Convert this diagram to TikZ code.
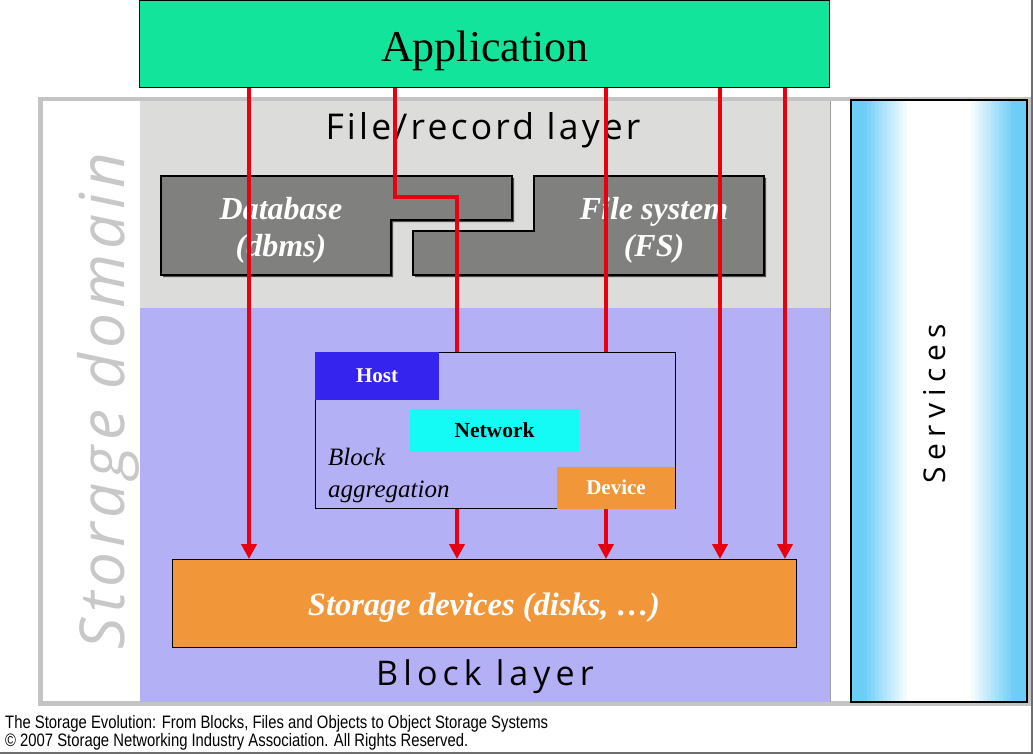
\documentclass[tikz,border=0pt]{standalone}
\usepackage{fontspec}
\usepackage{graphicx}
\setmainfont{Liberation Serif}
\newfontfamily\footfont{Liberation Sans}
\newfontfamily\layerfont[LetterSpace=9]{Open Sans}
\newfontfamily\blockfont[LetterSpace=15]{Open Sans}
\newfontfamily\svcfont[LetterSpace=22]{Open Sans}
\newfontfamily\domainfont[LetterSpace=8]{Open Sans}
\usetikzlibrary{arrows.meta}
\definecolor{appgreen}{RGB}{18,229,155}
\definecolor{filegray}{RGB}{220,220,219}
\definecolor{blockpurple}{RGB}{180,176,246}
\definecolor{dbgray}{RGB}{128,128,126}
\definecolor{dbshadow}{RGB}{80,80,80}
\definecolor{hostblue}{RGB}{52,36,238}
\definecolor{netcyan}{RGB}{20,250,244}
\definecolor{devorange}{RGB}{241,151,58}
\definecolor{linered}{RGB}{230,0,16}
\definecolor{svcblue}{RGB}{108,205,245}
\definecolor{framegray}{RGB}{196,196,196}
\definecolor{domaingray}{RGB}{200,200,200}
\definecolor{slideedge}{RGB}{110,110,110}
\tikzset{
  boxnode/.style={draw=black, line width=1pt, inner sep=0pt, outer sep=0pt},
  plainbox/.style={inner sep=0pt, outer sep=0pt},
  whitebi/.style={text=white, font=\bfseries\itshape\fontsize{32}{36}\selectfont, inner sep=0pt},
  redarrow/.style={draw=linered, line width=4pt, -{Triangle[width=15pt,length=15pt]}},
  shapeline/.style={draw=black, line width=1.2pt, fill=dbgray},
}
\begin{document}
\begin{tikzpicture}[x=1pt,y=-1pt]
\useasboundingbox (0,0) rectangle (1033,754);
\fill[white] (0,0) rectangle (1033,754);
% storage domain frame
\fill[framegray] (38,97) rectangle (1031,706);
\fill[white] (43,101) rectangle (1028,701);
% layers
\fill[filegray] (140,101) rectangle (830,308);
\fill[blockpurple] (140,308) rectangle (830,702);
\draw[framegray!80!black, line width=0.6pt] (830,101) -- (830,702);
% domain label
\node[rotate=90, anchor=base, inner sep=0pt, text=domaingray] (dom) at (124,401)
  {\domainfont\itshape\fontsize{62}{68}\selectfont Storage domain};
% layer labels
\node[anchor=base, inner sep=0pt] (filet) at (483,139.5)
  {\layerfont\fontsize{35.5}{40}\selectfont File/record layer};
\node[anchor=base, inner sep=0pt] (blockt) at (485,685.5)
  {\blockfont\fontsize{34}{40}\selectfont Block layer};
% services gradient (vertical strips)
\foreach \i in {0,...,43} {
  \pgfmathsetmacro\dd{abs(\i*4+2+851-939)}
  \pgfmathsetmacro\pp{max(0,min(100,(\dd-30)/45*100))}
  \fill[svcblue!\pp!white] ({851+\i*4},100) rectangle ({851+\i*4+4.4},702);
}
\node[boxnode, line width=1.2pt, minimum width=176pt, minimum height=602pt] (svc) at (939,401) {};
\node[rotate=90, anchor=base, inner sep=0pt] (svct) at (945,404)
  {\svcfont\fontsize{30}{36}\selectfont Services};
% application
\node[boxnode, fill=appgreen, minimum width=690pt, minimum height=87pt] (app) at (484,44.5) {};
\node[anchor=base, inner sep=0pt] (appt) at (485,62) {\fontsize{44}{50}\selectfont Application};
% database and file system
\fill[dbshadow] (163,178) -- (514,178) -- (514,222) -- (393,222) -- (393,277) -- (163,277) -- cycle;
\fill[dbshadow] (536,178) -- (766,178) -- (766,277) -- (415,277) -- (415,233) -- (536,233) -- cycle;
\path[shapeline] (161,176) -- (512,176) -- (512,220) -- (391,220) -- (391,275) -- (161,275) -- cycle;
\path[shapeline] (534,176) -- (764,176) -- (764,275) -- (413,275) -- (413,231) -- (534,231) -- cycle;
\node[whitebi, anchor=base] (dbt1) at (281,219) {Database};
\node[whitebi, anchor=base] (dbt2) at (281,256) {(dbms)};
\node[whitebi, anchor=base] (fst1) at (654,219) {File system};
\node[whitebi, anchor=base] (fst2) at (654,256) {(FS)};
% storage devices
\node[boxnode, fill=devorange, minimum width=624pt, minimum height=88pt] (sto) at (484,603) {};
\node[whitebi, anchor=base, font=\bfseries\itshape\fontsize{32.5}{36}\selectfont] (stot) at (484,615) {Storage devices (disks, …)};
% red connectors
\coordinate (a1) at (249,88);
\coordinate (a2) at (395,88);
\coordinate (a3) at (606,88);
\coordinate (a4) at (720,88);
\coordinate (a5) at (785,88);
\coordinate (j1) at (457,197);
\draw[redarrow] (a1) -- (a1 |- sto.north);
\draw[redarrow] (a2) |- (j1) -- (j1 |- sto.north);
\draw[redarrow] (a3) -- (a3 |- sto.north);
\draw[redarrow] (a4) -- (a4 |- sto.north);
\draw[redarrow] (a5) -- (a5 |- sto.north);
% block aggregation
\node[boxnode, fill=blockpurple, minimum width=360pt, minimum height=156.5pt] (agg) at (495,430.25) {};
\node[plainbox, fill=hostblue, minimum width=124pt, minimum height=48pt, text=white,
  font=\bfseries\fontsize{21}{24}\selectfont] (host) at (377,376) {Host};
\node[plainbox, fill=netcyan, minimum width=169pt, minimum height=43pt,
  font=\bfseries\fontsize{21.5}{24}\selectfont] (net) at (494.5,430.5) {Network};
\node[plainbox, fill=devorange, minimum width=118pt, minimum height=42pt, text=white,
  font=\bfseries\fontsize{21}{24}\selectfont] (dev) at (616,487.5) {Device};
\node[anchor=base west, inner sep=0pt, font=\itshape\fontsize{25}{28}\selectfont] (bat1) at (328,465) {Block};
\node[anchor=base west, inner sep=0pt, font=\itshape\fontsize{25}{28}\selectfont] (bat2) at (328,497) {aggregation};
% footer
\node[anchor=base west, inner sep=0pt] (f1) at (5,728)
  {\resizebox{543pt}{\height}{\footfont\fontsize{18}{20}\selectfont The Storage Evolution: From Blocks, Files and Objects to Object Storage Systems}};
\node[anchor=base west, inner sep=0pt] (f2) at (5,746.7)
  {\resizebox{463pt}{\height}{\footfont\fontsize{18}{20}\selectfont © 2007 Storage Networking Industry Association. All Rights Reserved.}};
% slide edge
\draw[slideedge, line width=1.5pt] (1032.2,0) -- (1032.2,753.2) -- (0,753.2);
\end{tikzpicture}
\end{document}
